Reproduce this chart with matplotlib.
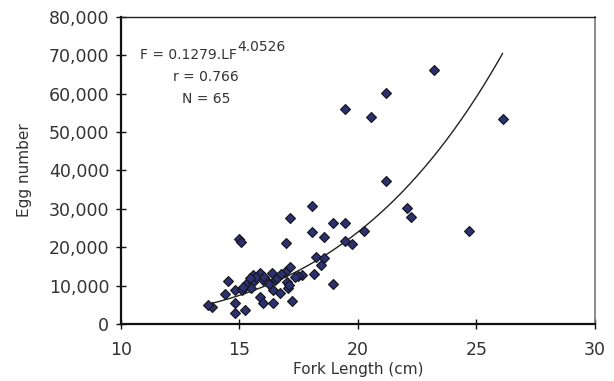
import numpy as np
import matplotlib.pyplot as plt
from matplotlib.ticker import FuncFormatter

# fork length (cm) and egg number
fork_length = [23.2, 21.2, 19.45, 20.55, 26.1, 21.2, 22.05, 22.25, 24.7,
               18.05, 17.15, 18.95, 19.45, 18.05, 18.55, 20.25, 19.45, 19.75,
               16.95, 15.0, 15.05, 18.25, 18.55, 18.45, 18.95, 18.15, 17.65,
               17.45, 17.2,
               17.13, 15.58, 15.86, 16.36, 16.92, 14.5, 15.3, 15.58, 16.0,
               16.5, 17.0, 14.81, 15.09, 15.5, 16.43, 16.7, 17.06, 14.39,
               15.86, 13.83, 13.69, 14.81, 16.0, 16.43, 14.81, 15.23,
               15.7, 16.05, 16.2, 15.15, 16.6, 17.35, 16.75, 15.45, 16.25, 17.1]
egg_number = [66300, 60300, 55900, 54000, 53400, 37200, 30100, 27900, 24200,
              30800, 27700, 26200, 26400, 23900, 22700, 24200, 21700, 20900,
              21100, 22100, 21300, 17400, 17100, 15300, 10400, 13000, 12700,
              12600, 5900,
              14900, 12800, 13200, 13200, 13600, 11200, 10600, 11000, 11500,
              11500, 11000, 8900, 8900, 9300, 8900, 8000, 9300, 7800,
              7100, 4500, 4900, 5400, 5400, 5400, 2800, 3600,
              12300, 12300, 11000, 9700, 12000, 12200, 13000, 12000, 10300, 10200]

# power fit printed on the chart
coef_a = 0.1279
coef_b = 4.0526
fit_range = (13.75, 26.1)

txt = '#333333'

fig = plt.figure(figsize=(6.14, 3.81), dpi=100)
ax = fig.add_axes([0.197, 0.1496, 0.772, 0.806])

lf = np.linspace(fit_range[0], fit_range[1], 200)
ax.plot(lf, coef_a * lf ** coef_b, color='#222222', lw=1.0)

ax.plot(fork_length, egg_number, 'D', ms=5.5, mfc='#2b3070', mec='#151515', mew=0.8, ls='none')

ax.set_xlim(10, 30)
ax.set_ylim(0, 80000)
ax.set_xticks([10, 15, 20, 25, 30])
ax.set_yticks(np.arange(0, 80001, 10000))
ax.yaxis.set_major_formatter(FuncFormatter(lambda v, p: '{:,.0f}'.format(v)))
ax.tick_params(direction='inout', length=7, width=1, labelsize=12.5, colors=txt)
ax.tick_params(axis='both', color='#111111')
ax.tick_params(axis='x', pad=9)
ax.tick_params(axis='y', pad=5)

for s in ('left', 'bottom'):
    ax.spines[s].set_linewidth(1.6)
    ax.spines[s].set_color('#111111')
ax.spines['top'].set_linewidth(1.0)
ax.spines['top'].set_color('#222222')
ax.spines['right'].set_linewidth(1.2)
ax.spines['right'].set_color('#777777')

ax.set_xlabel('Fork Length (cm)', fontsize=11, color=txt, labelpad=2)
ax.set_ylabel('Egg number', fontsize=11, color=txt, labelpad=12)

ax.text(0.04, 0.862, 'F = 0.1279.LF', transform=ax.transAxes, fontsize=10, color=txt)
ax.text(0.245, 0.888, '4.0526', transform=ax.transAxes, fontsize=10, color=txt)
ax.text(0.18, 0.79, 'r = 0.766', transform=ax.transAxes, fontsize=10, color=txt, ha='center')
ax.text(0.18, 0.72, 'N = 65', transform=ax.transAxes, fontsize=10, color=txt, ha='center')

fig.savefig('out.png', dpi=100)
